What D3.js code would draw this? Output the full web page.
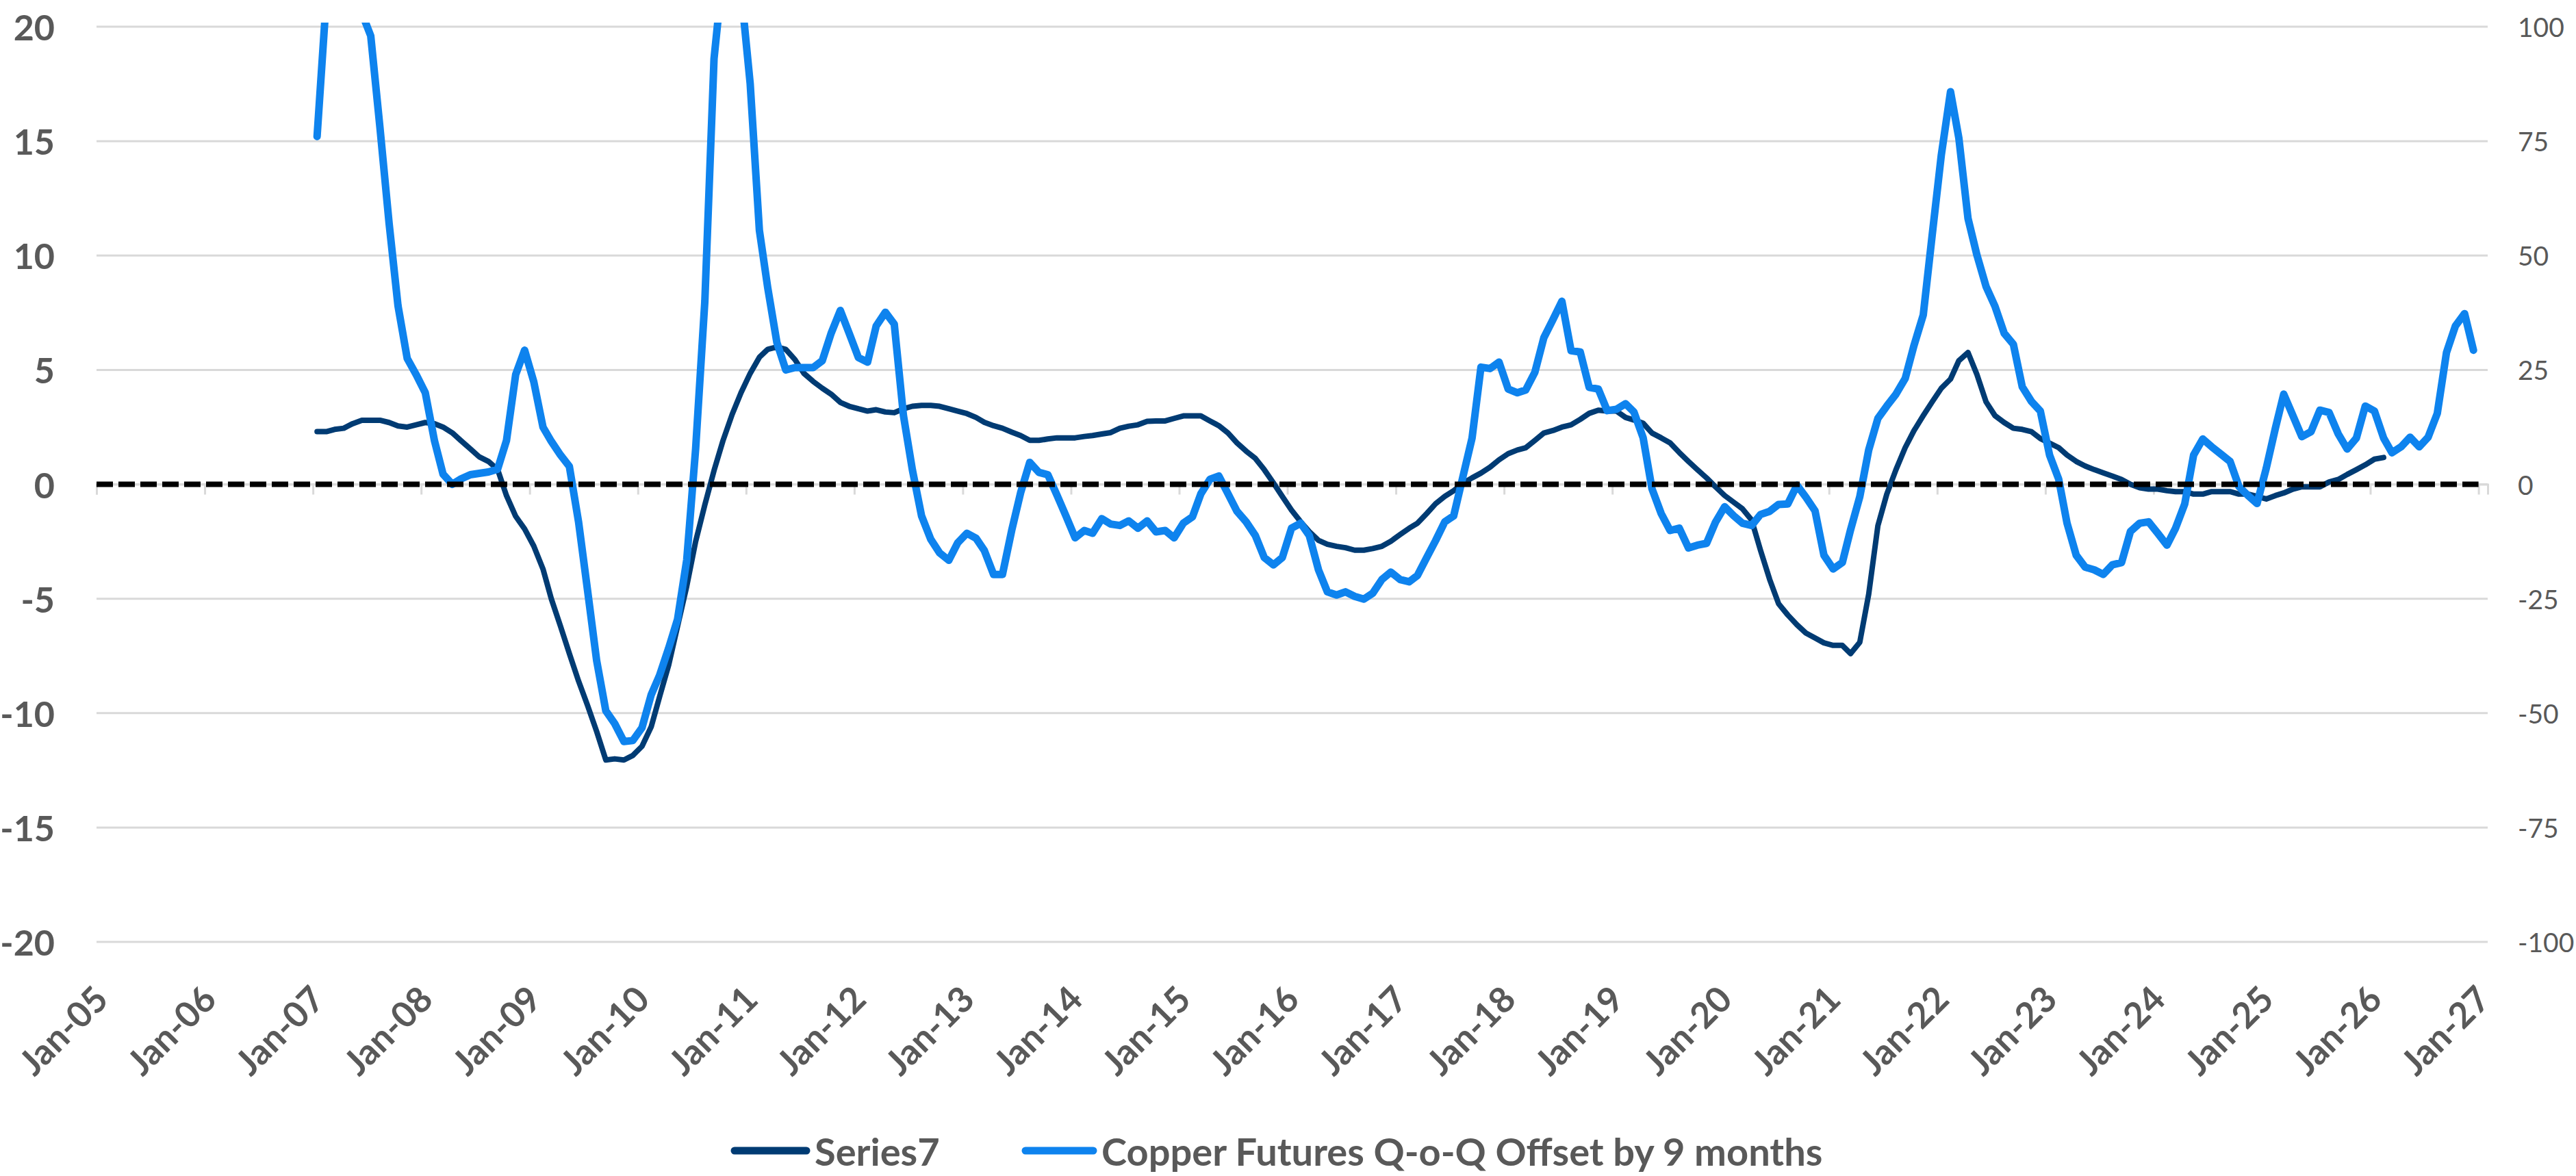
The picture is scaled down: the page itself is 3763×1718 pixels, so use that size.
<!DOCTYPE html>
<html>
<head>
<meta charset="utf-8">
<script src="https://cdn.jsdelivr.net/npm/d3@7"></script>
<style>
  html, body { margin: 0; padding: 0; background: #ffffff; }
  svg { display: block; }
  text { font-family: Lato, "Open Sans", "DejaVu Sans", sans-serif; }
</style>
</head>
<body>
<svg id="chart" width="3763" height="1718"></svg>
<script>
// ---------------- DATA ----------------
const xTickLabels = ["Jan-05","Jan-06","Jan-07","Jan-08","Jan-09","Jan-10","Jan-11","Jan-12",
  "Jan-13","Jan-14","Jan-15","Jan-16","Jan-17","Jan-18","Jan-19","Jan-20","Jan-21","Jan-22",
  "Jan-23","Jan-24","Jan-25","Jan-26","Jan-27"];
const leftTicks  = [-20, -15, -10, -5, 0, 5, 10, 15, 20];
const rightTicks = [-100, -75, -50, -25, 0, 25, 50, 75, 100];
const seriesNames = ["Series7", "Copper Futures Q-o-Q Offset by 9 months"];

// Series7 (left axis), monthly from Jan-2007
const series7Start = "2007-01";
const series7 = [
  2.3, 2.3, 2.4, 2.45, 2.65, 2.8, 2.8, 2.8, 2.7, 2.55, 2.5, 2.6,
  2.7, 2.65, 2.5, 2.25, 1.9, 1.55, 1.2, 1.0, 0.65, -0.5, -1.4, -1.95,
  -2.7, -3.7, -5.0, -6.2, -7.4, -8.6, -9.65, -10.8, -12.05, -12.0, -12.05, -11.85,
  -11.45, -10.6, -9.3, -7.9, -6.2, -4.45, -2.5, -0.9, 0.6, 1.9, 3.05, 4.0,
  4.85, 5.55, 5.9, 6.0, 5.9, 5.45, 4.85, 4.5, 4.2, 3.94, 3.58, 3.41,
  3.3, 3.2, 3.26, 3.16, 3.13, 3.3, 3.41, 3.45, 3.45, 3.41, 3.3, 3.2,
  3.09, 2.92, 2.71, 2.56, 2.45, 2.28, 2.13, 1.92, 1.92, 1.98, 2.03, 2.03,
  2.03, 2.09, 2.13, 2.2, 2.26, 2.45, 2.54, 2.6, 2.75, 2.77, 2.77, 2.88,
  2.99, 2.99, 2.99, 2.77, 2.56, 2.24, 1.81, 1.45, 1.13, 0.64, 0.06, -0.53,
  -1.13, -1.64, -2.07, -2.45, -2.62, -2.71, -2.77, -2.88, -2.88, -2.81, -2.71, -2.49,
  -2.2, -1.92, -1.7, -1.28, -0.85, -0.53, -0.28, 0.04, 0.28, 0.49, 0.75, 1.07,
  1.34, 1.5, 1.6, 1.92, 2.24, 2.35, 2.5, 2.6, 2.84, 3.1, 3.24, 3.2,
  3.2, 2.92, 2.81, 2.67, 2.24, 2.03, 1.81, 1.39, 1.0, 0.64, 0.28, -0.11,
  -0.49, -0.79, -1.07, -1.56, -2.88, -4.16, -5.22, -5.71, -6.14, -6.5, -6.72, -6.93,
  -7.04, -7.04, -7.4, -6.9, -4.8, -1.81, -0.43, 0.64, 1.6, 2.35, 3.0, 3.6,
  4.2, 4.6, 5.4, 5.76, 4.8, 3.6, 3.0, 2.7, 2.45, 2.4, 2.3, 2.0,
  1.8, 1.6, 1.28, 1.0, 0.8, 0.64, 0.5, 0.36, 0.21, 0.0, -0.15, -0.21,
  -0.21, -0.28, -0.32, -0.32, -0.43, -0.43, -0.32, -0.32, -0.32, -0.43, -0.43, -0.53,
  -0.64, -0.49, -0.38, -0.21, -0.11, -0.11, -0.11, 0.1, 0.21, 0.43, 0.64, 0.85,
  1.1, 1.17
];

// Copper Futures Q-o-Q offset by 9 months (right axis), monthly from Jan-2007
const copperStart = "2007-01";
const copper = [
  76, 106, 125, 130, 120, 103, 98, 78, 57, 39, 27.5, 24,
  20, 9.5, 2.2, 0, 1.2, 2.1, 2.4, 2.7, 3.3, 9.6, 24, 29.3,
  22.4, 12.5, 9.4, 6.4, 3.9, -8.2, -23, -38.5, -49.5, -52.3, -56.2, -56,
  -53.2, -46, -41.8, -35.8, -29.5, -16.5, 7.8, 40, 93, 112, 125, 108,
  87.5, 55.5, 43, 31, 25, 25.5, 25.5, 25.5, 27, 33, 38, 33,
  27.7, 26.7, 34.6, 37.6, 35, 15, 3.2, -6.9, -12, -15, -16.6, -12.8,
  -10.7, -11.8, -14.5, -19.7, -19.7, -10.1, -1.9, 4.8, 2.6, 2.1, -2.4, -6.9,
  -11.7, -10.1, -10.7, -7.5, -8.7, -9.0, -8.0, -9.6, -8.0, -10.4, -10.1, -11.7,
  -8.5, -7.1, -2.1, 1.1, 1.8, -2.1, -5.9, -8.2, -11.2, -16, -17.6, -16,
  -9.6, -8.5, -11.2, -18.7, -23.5, -24.2, -23.5, -24.5, -25.1, -23.8, -20.8, -19.2,
  -20.8, -21.3, -19.9, -16, -12.3, -8.2, -6.9, 1.6, 10.1, 25.6, 25.3, 26.7,
  20.8, 20, 20.6, 24.5, 32, 36, 40, 29.2, 28.9, 21.2, 20.8, 16.1,
  16.4, 17.6, 15.8, 10.2, -1, -6.4, -10.1, -9.6, -13.9, -13.3, -12.9, -8.3,
  -4.9, -6.9, -8.5, -9, -6.6, -5.9, -4.4, -4.3, -0.2, -2.8, -5.8, -15.5,
  -18.5, -17.1, -9.9, -2.7, 7.5, 14.4, 17.1, 19.7, 23.1, 30.4, 37, 54.4,
  72, 85.8, 75.7, 58.1, 50.1, 43.2, 38.9, 33, 30.6, 21.3, 18.1, 16,
  6.4, 1.1, -8.5, -15.5, -18.1, -18.7, -19.7, -17.6, -17.1, -10.3, -8.5, -8.2,
  -10.7, -13.3, -9.6, -4.3, 6.4, 9.9, 8.2, 6.6, 5, -0.5, -2.5, -4.2,
  3.5, 12.3, 19.7, 15, 10.4, 11.5, 16.2, 15.7, 11, 7.7, 10.1, 17.1,
  16, 10.1, 6.9, 8.2, 10.3, 8.2, 10.3, 15.5, 28.8, 34.6, 37.3, 29.3
];

// horizontal reference line at zero (dashed)
const zeroLineDates  = ["2005-01-01", "2027-01-01"];
const zeroLineValues = [0, 0];

// ---------------- LAYOUT / STYLE ----------------
const W = 3763, H = 1718;
const plot = { left: 141, right: 3634, top: 39, bottom: 1376 };
const colors = { series7: "#003B73", copper: "#0E83EE", grid: "#D9D9D9", text: "#595959", zero: "#000000" };

const svg = d3.select("#chart");
svg.append("rect").attr("width", W).attr("height", H).attr("fill", "#fff");

const parseMonth = d3.timeParse("%Y-%m");
const parseDay = d3.timeParse("%Y-%m-%d");
const parseTick = d3.timeParse("%b-%y");

function monthly(startStr, values) {
  const s = parseMonth(startStr);
  return values.map((v, i) => ({ date: new Date(s.getFullYear(), s.getMonth() + i, 15), v }));
}
const s7Data = monthly(series7Start, series7);
const cuData = monthly(copperStart, copper);
const zeroData = zeroLineDates.map((d, i) => ({ date: parseDay(d), v: zeroLineValues[i] }));
const tickDates = xTickLabels.map(parseTick);

const x = d3.scaleTime()
  .domain([new Date(2005, 0, 1), new Date(2027, 1, 1)])
  .range([plot.left, plot.right]);
const yL = d3.scaleLinear().domain([-20, 20]).range([plot.bottom, plot.top]);
const yR = d3.scaleLinear().domain([-100, 100]).range([plot.bottom, plot.top]);

// gridlines
svg.append("g").selectAll("line").data(leftTicks).join("line")
  .attr("x1", plot.left).attr("x2", plot.right)
  .attr("y1", d => yL(d)).attr("y2", d => yL(d))
  .attr("stroke", colors.grid).attr("stroke-width", 3);

// horizontal axis at zero with tick marks
const xAxis = d3.axisBottom(x).tickValues(tickDates).tickSize(15).tickFormat("");
const gx = svg.append("g").attr("transform", `translate(0,${yL(0)})`).call(xAxis);
gx.select(".domain").attr("stroke", colors.grid).attr("stroke-width", 3);
gx.selectAll(".tick line").attr("stroke", colors.grid).attr("stroke-width", 3);

// x labels rotated -45
svg.append("g").selectAll("text").data(tickDates).join("text")
  .attr("transform", d => `translate(${x(d) + 6},${1449}) rotate(-45)`)
  .attr("text-anchor", "end")
  .attr("dominant-baseline", "central")
  .attr("font-size", 52).attr("font-weight", 700)
  .attr("fill", colors.text)
  .text((d, i) => xTickLabels[i]);

// left axis labels (plain hyphen-minus, as in the reference)
svg.append("g").selectAll("text").data(leftTicks).join("text")
  .attr("x", 80).attr("y", d => yL(d))
  .attr("text-anchor", "end").attr("dominant-baseline", "central")
  .attr("font-size", 52).attr("font-weight", 700).attr("fill", colors.text)
  .text(d => String(d));

// right axis labels
svg.append("g").selectAll("text").data(rightTicks).join("text")
  .attr("x", 3678).attr("y", d => yR(d))
  .attr("text-anchor", "start").attr("dominant-baseline", "central")
  .attr("font-size", 39).attr("font-weight", 400).attr("fill", colors.text)
  .text(d => String(d));

// clip for plot area
svg.append("defs").append("clipPath").attr("id", "plotClip")
  .append("rect").attr("x", plot.left - 10).attr("y", plot.top - 6)
  .attr("width", plot.right - plot.left + 20).attr("height", plot.bottom - plot.top + 12);

const gLines = svg.append("g").attr("clip-path", "url(#plotClip)");

const lineL = d3.line().x(d => x(d.date)).y(d => yL(d.v));
const lineR = d3.line().x(d => x(d.date)).y(d => yR(d.v));

gLines.append("path").datum(s7Data).attr("d", lineL)
  .attr("fill", "none").attr("stroke", colors.series7).attr("stroke-width", 8)
  .attr("stroke-linejoin", "round").attr("stroke-linecap", "round");

gLines.append("path").datum(cuData).attr("d", lineR)
  .attr("fill", "none").attr("stroke", colors.copper).attr("stroke-width", 11)
  .attr("stroke-linejoin", "round").attr("stroke-linecap", "round");

gLines.append("path").datum(zeroData).attr("d", lineL)
  .attr("fill", "none").attr("stroke", colors.zero).attr("stroke-width", 8)
  .attr("stroke-dasharray", "24,8");

// legend
const legendY = 1681;
const legend = [
  { name: seriesNames[0], color: colors.series7, x1: 1068, x2: 1183, tx: 1190 },
  { name: seriesNames[1], color: colors.copper, x1: 1493, x2: 1602, tx: 1609 }
];
const lg = svg.append("g");
lg.selectAll("line").data(legend).join("line")
  .attr("x1", d => d.x1 + 5).attr("x2", d => d.x2 - 5)
  .attr("y1", legendY).attr("y2", legendY)
  .attr("stroke", d => d.color).attr("stroke-width", 11).attr("stroke-linecap", "round");
lg.selectAll("text").data(legend).join("text")
  .attr("x", d => d.tx).attr("y", legendY)
  .attr("dominant-baseline", "central")
  .attr("font-size", 56).attr("font-weight", 700).attr("fill", colors.text)
  .text(d => d.name);
</script>
</body>
</html>
